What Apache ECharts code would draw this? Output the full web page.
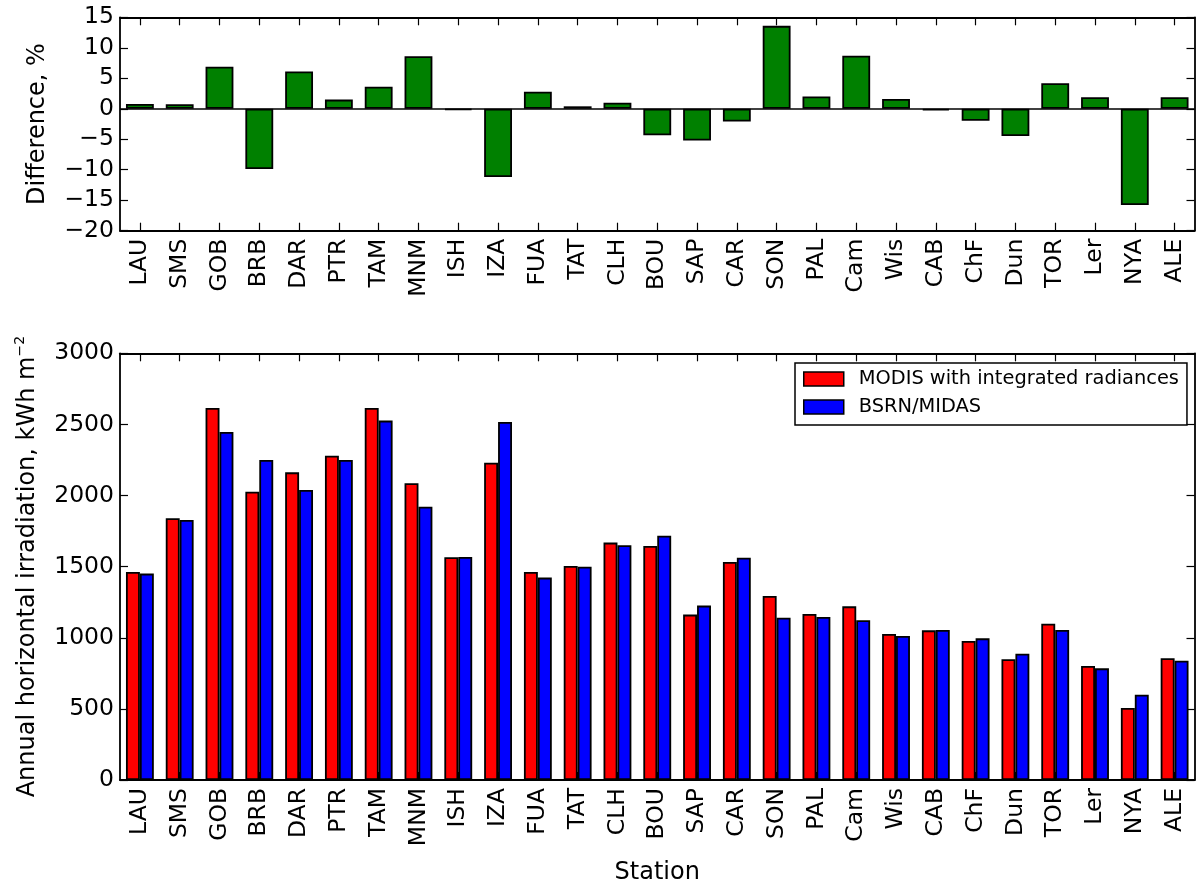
<!DOCTYPE html>
<html>
<head>
<meta charset="utf-8">
<script src="https://cdn.jsdelivr.net/npm/echarts@6/dist/echarts.min.js"></script>
<style>
  html, body { margin: 0; padding: 0; background: #fff; }
  #chart { width: 1196px; height: 884px; }
</style>
</head>
<body>
<div id="chart"></div>
<script>
// Station codes, in plotting order
const stations = ['LAU','SMS','GOB','BRB','DAR','PTR','TAM','MNM','ISH','IZA','FUA','TAT','CLH','BOU','SAP','CAR','SON','PAL','Cam','Wis','CAB','ChF','Dun','TOR','Ler','NYA','ALE'];

// Relative difference MODIS vs ground, %
const differencePct = [0.8, 0.75, 6.9, -9.9, 6.1, 1.5, 3.6, 8.6, -0.2, -11.2, 2.8, 0.4, 1.0, -4.35, -5.2, -2.1, 13.6, 2.0, 8.7, 1.6, -0.27, -1.96, -4.46, 4.2, 1.9, -15.8, 1.9];

// Annual horizontal irradiation, kWh m^-2
const modisIntegrated = [1462, 1840, 2616, 2027, 2163, 2280, 2616, 2086, 1566, 2231, 1462, 1505, 1669, 1645, 1163, 1533, 1294, 1167, 1221, 1027, 1052, 977, 849, 1099, 802, 506, 856];
const bsrnMidas       = [1451, 1828, 2447, 2250, 2039, 2250, 2527, 1922, 1568, 2517, 1423, 1500, 1650, 1718, 1226, 1563, 1141, 1146, 1123, 1013, 1055, 996, 888, 1055, 785, 600, 839];

// Axis ranges / ticks
const diffTicks = { min: -20, max: 15, interval: 5 };
const irrTicks  = { min: 0, max: 3000, interval: 500 };

const FONT = 'DejaVu Sans';
const TICK_FS = 23.5;
const NAME_FS = 24;
const AX_W = 1.8;
const BAR_EDGE = 1.8;
const minusSign = v => String(v).replace('-', '\u2212');

function catAxis(gridIndex, bottom) {
  return {
    type: 'category',
    gridIndex: gridIndex,
    position: bottom ? 'bottom' : 'top',
    data: stations,
    boundaryGap: true,
    axisLine: { show: true, onZero: false, lineStyle: { color: '#000', width: AX_W } },
    axisTick: { show: true, inside: true, length: 8, alignWithLabel: true, lineStyle: { color: '#000', width: 1.2 } },
    axisLabel: bottom ? {
      show: true, rotate: 90, margin: 8, interval: 0,
      color: '#000', fontFamily: FONT, fontSize: TICK_FS
    } : { show: false },
    splitLine: { show: false }
  };
}

function valAxis(gridIndex, left, ticks, name, nameGap) {
  const ax = {
    type: 'value',
    gridIndex: gridIndex,
    position: left ? 'left' : 'right',
    min: ticks.min, max: ticks.max, interval: ticks.interval,
    axisLine: { show: true, lineStyle: { color: '#000', width: AX_W } },
    axisTick: { show: true, inside: true, length: 8, lineStyle: { color: '#000', width: 1.2 } },
    axisLabel: left ? {
      show: true, margin: 6, color: '#000', fontFamily: FONT, fontSize: TICK_FS,
      formatter: minusSign
    } : { show: false },
    splitLine: { show: false }
  };
  if (left && name) {
    ax.name = name.text;
    ax.nameLocation = 'middle';
    ax.nameRotate = 90;
    ax.nameGap = nameGap;
    ax.nameTextStyle = Object.assign({ color: '#000', fontFamily: FONT, fontSize: NAME_FS }, name.style || {});
  }
  return ax;
}

const chart = echarts.init(document.getElementById('chart'), null, { renderer: 'canvas' });

chart.setOption({
  animation: false,
  backgroundColor: '#fff',
  grid: [
    { left: 120, right: 1.5, top: 17.3, height: 213.4, containLabel: false, outerBoundsMode: 'none' },
    { left: 120, right: 1.5, top: 353.3, height: 426.7, containLabel: false, outerBoundsMode: 'none' }
  ],
  legend: {
    orient: 'vertical',
    left: 795, top: 363,
    padding: [6, 8, 8, 8],
    itemGap: 8,
    itemWidth: 40, itemHeight: 14,
    icon: 'rect',
    borderColor: '#000', borderWidth: 1.5,
    backgroundColor: '#fff',
    textStyle: { color: '#000', fontFamily: FONT, fontSize: 19.4, lineHeight: 20, padding: [0, 0, 0, 10] },
    itemStyle: { borderColor: '#000', borderWidth: 1.5 },
    data: ['MODIS with integrated radiances', 'BSRN/MIDAS']
  },
  xAxis: [
    catAxis(0, true),
    catAxis(0, false),
    Object.assign(catAxis(1, true), {
      name: 'Station', nameLocation: 'middle', nameGap: 81,
      nameTextStyle: { color: '#000', fontFamily: FONT, fontSize: NAME_FS }
    }),
    catAxis(1, false)
  ],
  yAxis: [
    valAxis(0, true, diffTicks, { text: 'Difference, %' }, 70),
    valAxis(0, false, diffTicks),
    valAxis(1, true, irrTicks, {
      text: 'Annual horizontal irradiation, kWh m{sup|\u22122}',
      style: { rich: { sup: { fontFamily: FONT, fontSize: 14, color: '#000', verticalAlign: 'top', lineHeight: 30 } } }
    }, 77),
    valAxis(1, false, irrTicks)
  ],
  series: [
    {
      type: 'bar', name: 'Difference',
      xAxisIndex: 0, yAxisIndex: 0,
      data: differencePct,
      barWidth: '70%',
      itemStyle: { color: '#008000', borderColor: '#000', borderWidth: BAR_EDGE },
      markLine: {
        silent: true, symbol: 'none', label: { show: false },
        lineStyle: { color: '#000', width: 1.5, type: 'solid' },
        data: [{ yAxis: 0 }]
      }
    },
    {
      type: 'bar', name: 'MODIS with integrated radiances',
      xAxisIndex: 2, yAxisIndex: 2,
      data: modisIntegrated,
      barWidth: '35%', barGap: '0%',
      itemStyle: { color: '#ff0000', borderColor: '#000', borderWidth: BAR_EDGE }
    },
    {
      type: 'bar', name: 'BSRN/MIDAS',
      xAxisIndex: 2, yAxisIndex: 2,
      data: bsrnMidas,
      barWidth: '35%', barGap: '0%',
      itemStyle: { color: '#0000ff', borderColor: '#000', borderWidth: BAR_EDGE }
    }
  ]
});
</script>
</body>
</html>
